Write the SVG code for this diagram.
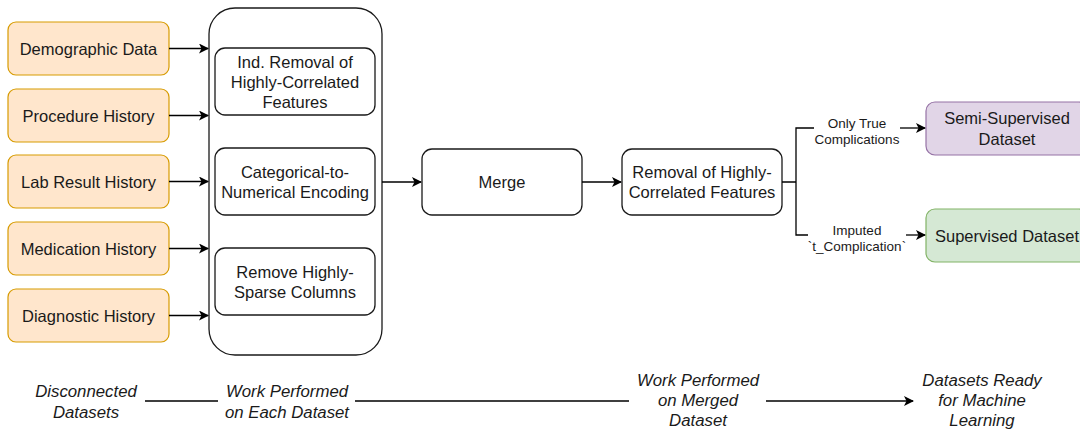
<svg xmlns="http://www.w3.org/2000/svg" width="1080" height="430" viewBox="0 0 1080 430">
<defs>
<marker id="arr" viewBox="0 0 10 10" refX="9" refY="5" markerWidth="10" markerHeight="10" markerUnits="userSpaceOnUse" orient="auto">
<path d="M0,0 L10,5 L0,10 L2.5,5 Z" fill="#000"/>
</marker>
</defs>
<style>
text{font-family:"Liberation Sans",Arial,Helvetica,sans-serif;fill:#1a1a1a;text-anchor:middle;dominant-baseline:central}
.n{font-size:16.5px}
.s{font-size:13.5px}
.i{font-size:16.8px;font-style:italic}
.src rect{fill:#ffe6cc;stroke:#d79b00;stroke-width:1.2}
.proc rect{fill:#fff;stroke:#1a1a1a;stroke-width:1.3}
.semi rect{fill:#e1d5e7;stroke:#9673a6;stroke-width:1.2}
.sup rect{fill:#d5e8d4;stroke:#82b366;stroke-width:1.2}
.c{fill:none;stroke:#000;stroke-width:1.3}
</style>
<g id="demographic" class="src"><rect x="8" y="22" width="161" height="53" rx="8"/><text class="n" x="88.5" y="48.5">Demographic Data</text></g>
<g id="procedure" class="src"><rect x="8" y="89" width="161" height="53" rx="8"/><text class="n" x="88.5" y="115.5">Procedure History</text></g>
<g id="lab" class="src"><rect x="8" y="155" width="161" height="53" rx="8"/><text class="n" x="88.5" y="181.5">Lab Result History</text></g>
<g id="medication" class="src"><rect x="8" y="222" width="161" height="53" rx="8"/><text class="n" x="88.5" y="248.5">Medication History</text></g>
<g id="diagnostic" class="src"><rect x="8" y="289" width="161" height="53" rx="8"/><text class="n" x="88.5" y="315.5">Diagnostic History</text></g>
<g id="per-dataset" class="proc"><rect x="209" y="8" width="173" height="347" rx="26"/></g>
<g id="ind-removal" class="proc"><rect x="215" y="48" width="160" height="67" rx="10"/><text class="n" x="295" y="62">Ind. Removal of</text><text class="n" x="295" y="82">Highly-Correlated</text><text class="n" x="295" y="102">Features</text></g>
<g id="encoding" class="proc"><rect x="215" y="148" width="160" height="67" rx="10"/><text class="n" x="295" y="172">Categorical-to-</text><text class="n" x="295" y="192">Numerical Encoding</text></g>
<g id="sparse" class="proc"><rect x="215" y="248" width="160" height="67" rx="10"/><text class="n" x="295" y="272">Remove Highly-</text><text class="n" x="295" y="292">Sparse Columns</text></g>
<g id="merge" class="proc"><rect x="422" y="149" width="160" height="66" rx="10"/><text class="n" x="502" y="182">Merge</text></g>
<g id="removal" class="proc"><rect x="622" y="149" width="160" height="66" rx="10"/><text class="n" x="702" y="172">Removal of Highly-</text><text class="n" x="702" y="192">Correlated Features</text></g>
<g id="semi-supervised" class="semi"><rect x="926" y="102" width="162" height="53" rx="9"/><text class="n" x="1007" y="118">Semi-Supervised</text><text class="n" x="1007" y="139">Dataset</text></g>
<g id="supervised" class="sup"><rect x="926" y="209" width="162" height="53" rx="9"/><text class="n" x="1007" y="235.5">Supervised Dataset</text></g>
<g id="connectors">
<path class="c" d="M169,48.5 H208" marker-end="url(#arr)"/>
<path class="c" d="M169,115.5 H208" marker-end="url(#arr)"/>
<path class="c" d="M169,181.5 H208" marker-end="url(#arr)"/>
<path class="c" d="M169,248.5 H208" marker-end="url(#arr)"/>
<path class="c" d="M169,315.5 H208" marker-end="url(#arr)"/>
<path class="c" d="M382,182 H421" marker-end="url(#arr)"/>
<path class="c" d="M582,182 H621" marker-end="url(#arr)"/>
<path class="c" d="M782,182 H796 M814,128 H796 V235 H808"/>
<path class="c" d="M900,128 H925" marker-end="url(#arr)"/>
<path class="c" d="M906,235 H925" marker-end="url(#arr)"/>
<text class="s" x="857" y="123">Only True</text>
<text class="s" x="857" y="139">Complications</text>
<text class="s" x="857" y="230">Imputed</text>
<text class="s" x="857" y="246">`t_Complication`</text>
<path class="c" d="M145,401 H218 M355,401 H629"/>
<path class="c" d="M766,401 H913" marker-end="url(#arr)"/>
</g>
<g id="stages">
<text class="i" x="86" y="391">Disconnected</text>
<text class="i" x="86" y="412">Datasets</text>
<text class="i" x="287" y="391">Work Performed</text>
<text class="i" x="287" y="412">on Each Dataset</text>
<text class="i" x="698" y="380">Work Performed</text>
<text class="i" x="698" y="400">on Merged</text>
<text class="i" x="698" y="420">Dataset</text>
<text class="i" x="982" y="380">Datasets Ready</text>
<text class="i" x="982" y="400">for Machine</text>
<text class="i" x="982" y="420">Learning</text>
</g>
</svg>
